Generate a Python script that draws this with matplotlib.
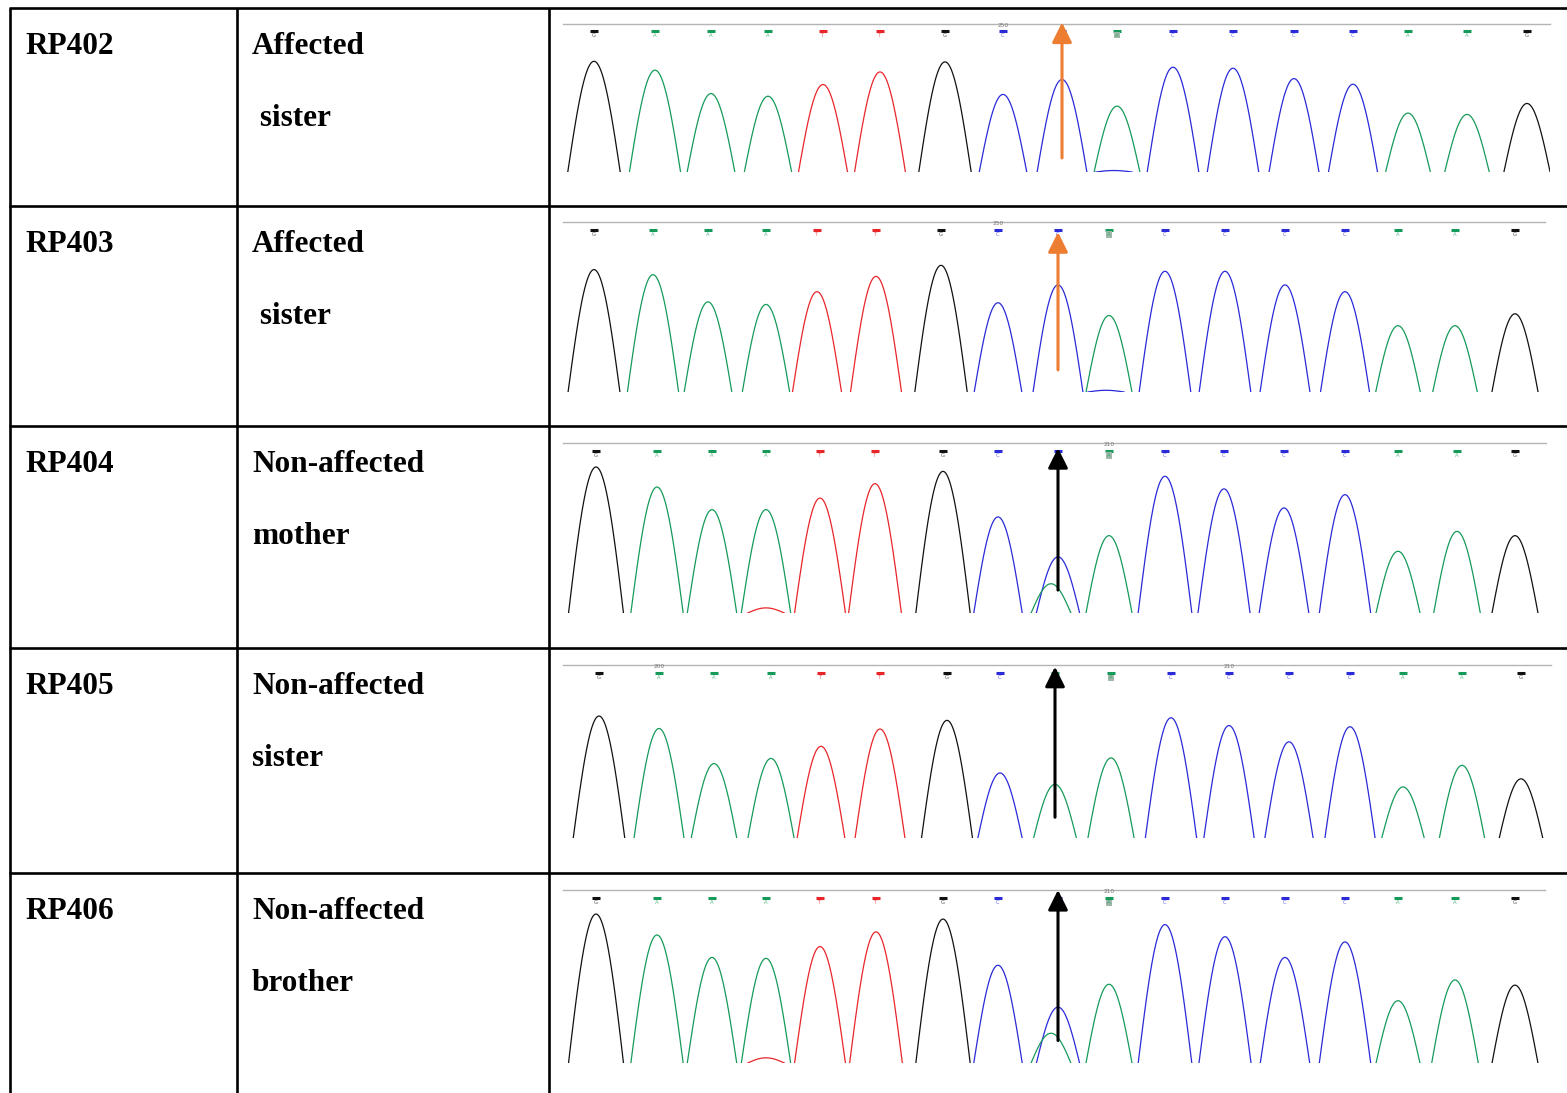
import numpy as np
import matplotlib
matplotlib.use('Agg')
import matplotlib.pyplot as plt

# table text
sample_ids = ['RP402', 'RP403', 'RP404', 'RP405', 'RP406']
status_top = ['Affected', 'Affected', 'Non-affected', 'Non-affected', 'Non-affected']
status_bottom = [' sister', ' sister', 'mother', 'sister', 'brother']
arrow_kind = ['orange', 'orange', 'black', 'black', 'black']

# base calls of the trace window (G/A/T/C)
calls_affected = ['G', 'A', 'A', 'A', 'T', 'T', 'G', 'C', 'C', 'A', 'C', 'C', 'C', 'C', 'A', 'A', 'G']
calls_wild = ['G', 'A', 'A', 'A', 'T', 'T', 'G', 'C', 'A', 'A', 'C', 'C', 'C', 'C', 'A', 'A', 'G']

# peak positions (scan units) and heights (fraction of panel) per sample
rp402_pos = [31, 92, 148, 205, 260, 317, 382, 440, 499, 554, 610, 670, 731, 790, 845, 904, 964]
rp402_h = [0.748, 0.688, 0.53, 0.512, 0.591, 0.676, 0.744, 0.524, 0.625, 0.445,
           0.708, 0.701, 0.631, 0.593, 0.398, 0.389, 0.463]
rp403_pos = [31, 90, 145, 203, 254, 313, 378, 435, 495, 546, 602, 662, 722, 782, 835, 892, 952]
rp403_h = [0.72, 0.69, 0.53, 0.515, 0.59, 0.68, 0.745, 0.525, 0.63, 0.45,
           0.71, 0.71, 0.63, 0.59, 0.39, 0.39, 0.46]
rp404_pos = [33, 94, 149, 203, 257, 312, 380, 435, 495, 546, 602, 661, 721, 782, 835, 894, 952]
rp404_h = [0.859, 0.741, 0.608, 0.608, 0.676, 0.761, 0.833, 0.565, 0.33, 0.455,
           0.804, 0.73, 0.618, 0.696, 0.363, 0.48, 0.455]
rp405_pos = [36, 96, 151, 208, 258, 317, 384, 437, 492, 548, 608, 666, 726, 787, 840, 899, 958]
rp405_h = [0.705, 0.633, 0.43, 0.46, 0.53, 0.63, 0.68, 0.376, 0.31, 0.463,
           0.695, 0.65, 0.556, 0.643, 0.295, 0.42, 0.342]
rp406_pos = [33, 94, 149, 203, 257, 313, 380, 435, 495, 546, 602, 662, 722, 782, 835, 892, 952]
rp406_h = [0.861, 0.74, 0.61, 0.605, 0.673, 0.758, 0.832, 0.565, 0.323, 0.455,
           0.80, 0.73, 0.61, 0.70, 0.36, 0.48, 0.45]

# secondary (minor) peaks: heterozygous A under the C call, small T bumps
minor_pos = [[551], [543], [488, 203], [], [488, 203]]
minor_h = [[0.01], [0.01], [0.172, 0.03], [], [0.172, 0.03]]
minor_base = [['C'], ['C'], ['A', 'T'], [], ['A', 'T']]

mut_index = 8  # peak the arrow points at
scale_marks = [[(7, '250')], [(7, '250')], [(9, '210')], [(1, '200'), (11, '210')], [(9, '210')]]

all_pos = [rp402_pos, rp403_pos, rp404_pos, rp405_pos, rp406_pos]
all_h = [rp402_h, rp403_h, rp404_h, rp405_h, rp406_h]
all_calls = [calls_affected, calls_affected, calls_affected, calls_wild, calls_affected]

base_color = {'G': '#111111', 'A': '#169a5a', 'T': '#e8262a', 'C': '#2a2ad8'}
orange = '#ED7D31'

# layout in pixels
W, H = 1567, 1093
row_top = [8, 206, 426, 648, 873]
grey_y = [24, 222, 443, 665, 890]
base_y = [172, 392, 613, 838, 1063]
trace_left = 563
trace_right = [1550, 1545, 1546, 1551, 1545]
arrow_span = [(0.095, 1.01), (0.13, 0.94), (0.135, 0.97), (0.12, 0.99), (0.13, 1.0)]

fig = plt.figure(figsize=(W / 100, H / 100), dpi=100)
bg = fig.add_axes([0, 0, 1, 1])
bg.set_xlim(0, W)
bg.set_ylim(H, 0)
bg.axis('off')

lw_tab = 1.9
for y in row_top:
    bg.plot([9, W], [y, y], color='black', lw=lw_tab, solid_capstyle='butt')
for x in [10, 237, 549]:
    bg.plot([x, x], [row_top[0], H], color='black', lw=lw_tab, solid_capstyle='butt')

font = dict(family='Liberation Serif', weight='bold', size=22.5, color='black')
for i in range(5):
    bg.text(25, row_top[i] + 46, sample_ids[i], va='baseline', ha='left', **font)
    bg.text(252, row_top[i] + 46, status_top[i], va='baseline', ha='left', **font)
    bg.text(252, row_top[i] + 118, status_bottom[i], va='baseline', ha='left', **font)


def draw_peak(ax, x0, h, base):
    w = 18 + 11 * h
    dx = np.linspace(-w, w, 80)
    ax.plot(x0 + dx, h * np.cos(np.pi / 2 * dx / w), color=base_color[base], lw=0.9)


for i in range(5):
    rect = [trace_left / W, 1 - base_y[i] / H,
            (trace_right[i] - trace_left) / W, (base_y[i] - grey_y[i]) / H]
    ax = fig.add_axes(rect)
    ax.set_xlim(0, trace_right[i] - trace_left)
    ax.set_ylim(0, 1)
    ax.patch.set_alpha(0)
    for s in ['left', 'right', 'bottom']:
        ax.spines[s].set_visible(False)
    ax.spines['top'].set_color('#b4b4b4')
    ax.spines['top'].set_linewidth(1.0)
    ax.set_xticks([])
    ax.set_yticks([])

    pos, hts, calls = all_pos[i], all_h[i], all_calls[i]
    for x0, h, b in zip(pos, hts, calls):
        draw_peak(ax, x0, h, b)
    for x0, h, b in zip(minor_pos[i], minor_h[i], minor_base[i]):
        draw_peak(ax, x0, h, b)

    # base call labels along the top
    for k, (x0, b) in enumerate(zip(pos, calls)):
        ax.plot([x0], [0.955], marker='_', ms=6, mew=2.2, color=base_color[b], clip_on=False)
        box = dict(boxstyle='square,pad=0.15', fc='#9fb8a8', ec='none') if k == 9 else None
        ax.text(x0, 0.925, b, fontsize=3.8, color=base_color[b], alpha=0.7,
                ha='center', va='center', bbox=box, clip_on=False)
    for k, lab in scale_marks[i]:
        ax.text(pos[k], 0.99, lab, fontsize=4.2, color='#777777', ha='center', va='center',
                clip_on=False)

    xa = pos[mut_index]
    y0, y1 = arrow_span[i]
    col = orange if arrow_kind[i] == 'orange' else 'black'
    ax.annotate('', xy=(xa, y1), xytext=(xa, y0), annotation_clip=False,
                arrowprops=dict(arrowstyle='-|>', mutation_scale=30, lw=2.2,
                                color=col, shrinkA=0, shrinkB=0))

fig.savefig('out.png', dpi=100)
